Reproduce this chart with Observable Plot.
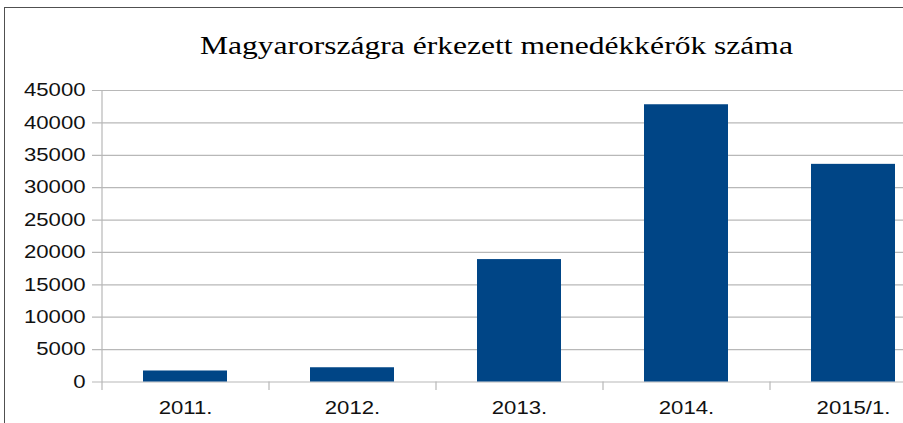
<!DOCTYPE html>
<html><head><meta charset="utf-8">
<script src="https://cdn.jsdelivr.net/npm/d3@7"></script>
<script src="https://cdn.jsdelivr.net/npm/@observablehq/plot@0.6"></script>
<style>
body{margin:0;background:#fff}
#wrap{position:relative;width:903px;height:423px;overflow:hidden;background:#fff}
#border{position:absolute;left:4px;top:7px;width:1000px;height:1000px;border:1.5px solid #505050;box-sizing:border-box;pointer-events:none;z-index:2}
#title{position:absolute;left:45px;top:32.5px;width:903px;text-align:center;font-family:"Liberation Serif";font-size:25.7px;line-height:25.7px;color:#000;white-space:nowrap;z-index:3}
#title span{display:inline-block;transform-origin:50% 50%}
#chart{position:absolute;left:0;top:0}
</style></head>
<body>
<div id="wrap">
  <div id="chart"></div>
  <div id="border"></div>
  <div id="title"><span>Magyarországra érkezett menedékkérők száma</span></div>
</div>
<script>
const years = ["2011.", "2012.", "2013.", "2014.", "2015/1."];
const applicants = [1700, 2200, 18900, 42800, 33600];
const yTicks = [0, 5000, 10000, 15000, 20000, 25000, 30000, 35000, 40000, 45000];

const data = years.map((year, i) => ({year, value: applicants[i]}));
const grey = "#b8b8b8";
const stretch = 1.23;

const chart = Plot.plot({
  width: 903,
  height: 423,
  marginLeft: 101,
  marginTop: 90,
  marginBottom: 41.5,
  marginRight: -34,
  style: {fontFamily: "Liberation Sans", fontSize: "18px", color: "#000", background: "transparent"},
  x: {domain: years, paddingInner: 0.5, paddingOuter: 0.25, label: null},
  y: {domain: [0, 45000], label: null},
  marks: [
    Plot.ruleY(yTicks, {stroke: grey, strokeWidth: 1.2, insetLeft: -9}),
    Plot.ruleX([years[0]], {x: d => d, y1: 45000, y2: -1300, dx: -83.5, stroke: grey, strokeWidth: 1.2}),
    Plot.ruleX(years.slice(1), {x: d => d, y1: 0, y2: -1300, dx: -83.5, stroke: grey, strokeWidth: 1.2}),
    Plot.barY(data, {x: "year", y: "value", fill: "#004586"}),
    Plot.axisY(yTicks, {tickSize: 0, tickPadding: 16, fontSize: 18, tickFormat: d => String(d), fill: "#111", label: null}),
    Plot.axisX({tickSize: 0, tickPadding: 19.7, fontSize: 18, fill: "#111", label: null})
  ]
});
document.getElementById("chart").appendChild(chart);

// horizontal stretch of the labels as in the reference
chart.querySelectorAll('g[aria-label$="tick label"] text').forEach(t => {
  const w = t.getComputedTextLength();
  t.setAttribute("textLength", w * stretch);
  t.setAttribute("lengthAdjust", "spacingAndGlyphs");
});
const span = document.querySelector("#title span");
const tw = span.getBoundingClientRect().width;
span.style.transform = `scaleX(${593 / tw})`;
</script>
</body></html>
